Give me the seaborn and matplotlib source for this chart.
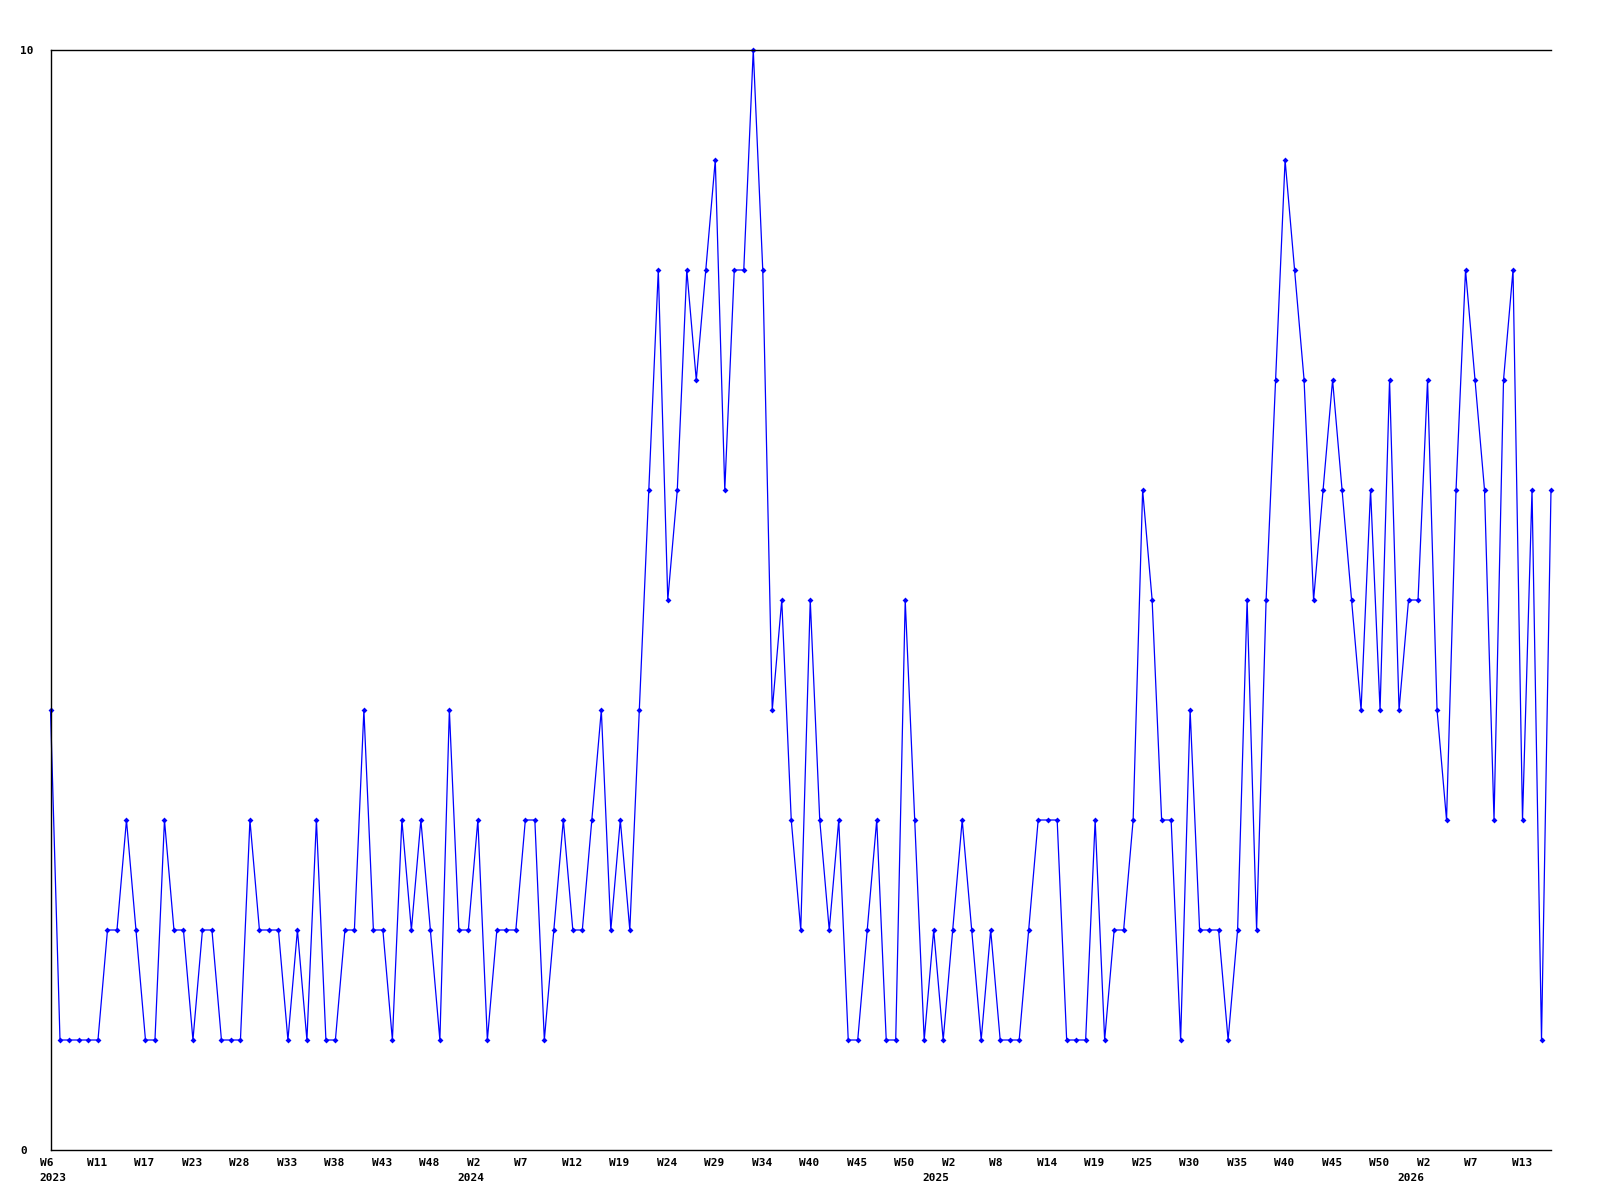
import matplotlib
matplotlib.use("Agg")
import matplotlib.pyplot as plt
import matplotlib.transforms as mtransforms
import numpy as np
import seaborn as sns

# weekly counts
values = [4, 1, 1, 1, 1, 1, 2, 2, 3, 2,
          1, 1, 3, 2, 2, 1, 2, 2, 1, 1,
          1, 3, 2, 2, 2, 1, 2, 1, 3, 1,
          1, 2, 2, 4, 2, 2, 1, 3, 2, 3,
          2, 1, 4, 2, 2, 3, 1, 2, 2, 2,
          3, 3, 1, 2, 3, 2, 2, 3, 4, 2,
          3, 2, 4, 6, 8, 5, 6, 8, 7, 8,
          9, 6, 8, 8, 10, 8, 4, 5, 3, 2,
          5, 3, 2, 3, 1, 1, 2, 3, 1, 1,
          5, 3, 1, 2, 1, 2, 3, 2, 1, 2,
          1, 1, 1, 2, 3, 3, 3, 1, 1, 1,
          3, 1, 2, 2, 3, 6, 5, 3, 3, 1,
          4, 2, 2, 2, 1, 2, 5, 2, 5, 7,
          9, 8, 7, 5, 6, 7, 6, 5, 4, 6,
          4, 7, 4, 5, 5, 7, 4, 3, 6, 8,
          7, 6, 3, 7, 8, 3, 6, 1, 6]

week_labels = ["W6", "W11", "W17", "W23", "W28", "W33", "W38", "W43", "W48",
               "W2", "W7", "W12", "W19", "W24", "W29", "W34", "W40", "W45", "W50",
               "W2", "W8", "W14", "W19", "W25", "W30", "W35", "W40", "W45", "W50",
               "W2", "W7", "W13"]
label_step = 5
year_labels = ["2023", "2024", "2025", "2026"]
year_pos = [0, 44, 93, 143]

x = np.arange(len(values))

sns.set_style("white")
plt.rcParams['font.family'] = ['DejaVu Sans Mono', 'DejaVu Sans']
plt.rcParams['text.color'] = 'black'
plt.rcParams['ytick.color'] = 'black'
plt.rcParams['xtick.color'] = 'black'

fig = plt.figure(figsize=(16, 12), dpi=100)
ax = fig.add_axes([50.5 / 1600, 50 / 1200, 1500.5 / 1600, 1100 / 1200])

sns.lineplot(x=x, y=values, ax=ax, color='#0000ff', linewidth=0.9,
             marker='D', markersize=3, markeredgewidth=0, clip_on=False)

ax.set_xlim(0, len(values) - 1)
ax.set_ylim(0, 10)

for side in ['left', 'bottom', 'top']:
    ax.spines[side].set_color('black')
    ax.spines[side].set_linewidth(1.0)
ax.spines['right'].set_visible(False)

# y labels
ax.set_yticks([0, 10])
ax.set_yticklabels(['0', '10'], fontsize=8, fontweight='bold', color='black')
ax.tick_params(axis='y', length=0, pad=22)
for lab in ax.get_yticklabels():
    lab.set_horizontalalignment('left')

# x labels, left aligned a bit before each tick
ax.set_xticks([])
ax.set_xlabel('')
ax.set_ylabel('')
tick_pos = np.arange(0, len(values), label_step)
trans_w = mtransforms.offset_copy(ax.get_xaxis_transform(), fig=fig, x=-11, y=-8, units='dots')
for p, lab in zip(tick_pos, week_labels):
    ax.text(p, 0, lab, transform=trans_w, ha='left', va='top',
            fontsize=8, fontweight='bold', color='black')
trans_y = mtransforms.offset_copy(ax.get_xaxis_transform(), fig=fig, x=-11, y=-23, units='dots')
for p, lab in zip(year_pos, year_labels):
    ax.text(p, 0, lab, transform=trans_y, ha='left', va='top',
            fontsize=8, fontweight='bold', color='black')

plt.savefig('out.png', dpi=100)
